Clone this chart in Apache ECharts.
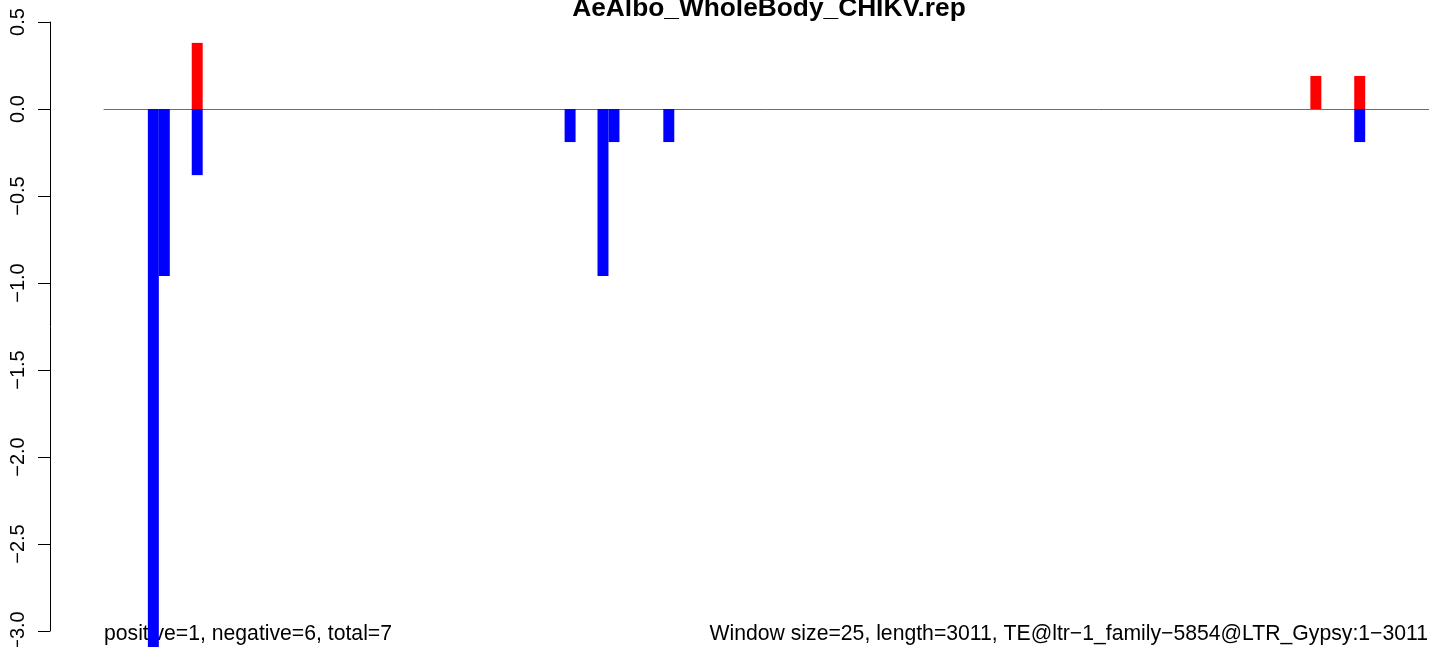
<!DOCTYPE html>
<html>
<head>
<meta charset="utf-8">
<script src="https://cdn.jsdelivr.net/npm/echarts@6/dist/echarts.min.js"></script>
<style>
  html, body { margin: 0; padding: 0; background: #fff; }
  #rep_plot { width: 1429px; height: 647px; }
</style>
</head>
<body>
<div id="rep_plot"></div>
<script>
// // DATA
const window_count = 121; // 3011 / 25 rounded up
const pos_windows = [8, 110, 114];
const pos_values = [0.38, 0.19, 0.19];
const neg_windows = [4, 5, 8, 42, 45, 46, 51, 114];
const neg_values = [-3.1, -0.96, -0.38, -0.19, -0.96, -0.19, -0.19, -0.19];
const y_ticks = [0.5, -3.0];

const title_text = "AeAlbo_WholeBody_CHIKV.rep";
const left_note = "positive=1, negative=6, total=7";
const right_note = "Window size=25, length=3011, TE@ltr\u22121_family\u22125854@LTR_Gypsy:1\u22123011";

const font = "'Liberation Sans', Arial, sans-serif";

// // HELPERS

// spreading (window, value) pairs over every window slot
function fillWindows(windows, values) {
  const out = new Array(window_count).fill('-');
  windows.forEach((w, i) => { out[w] = values[i]; });
  return out;
}

// R style tick label, real minus sign
function tickLabel(v) {
  return (v < 0 ? "\u2212" : "") + Math.abs(v).toFixed(1);
}

function repPlot() {
  const categories = Array.from({ length: window_count }, (_, i) => i + 1);

  return {
    animation: false,
    // no auto shrinking of the grid for labels (v6)
    grid: { left: 104, right: -2, top: 22, bottom: 16, outerBoundsMode: "none", containLabel: false },
    xAxis: {
      type: "category",
      data: categories,
      boundaryGap: true,
      axisLine: { onZero: true, lineStyle: { color: "#6e6e6e", width: 1 } },
      axisTick: { show: false },
      axisLabel: { show: false },
      splitLine: { show: false }
    },
    yAxis: {
      type: "value",
      min: y_ticks[1],
      max: y_ticks[0],
      interval: 0.5,
      offset: 54,
      axisLine: { show: true, lineStyle: { color: "#000", width: 1 } },
      axisTick: { show: true, length: 12, lineStyle: { color: "#000", width: 1 } },
      axisLabel: {
        rotate: 90, margin: 22, color: "#000", fontSize: 20, fontFamily: font,
        formatter: tickLabel
      },
      splitLine: { show: false }
    },
    series: [
      {
        type: "bar", name: "positive", data: fillWindows(pos_windows, pos_values),
        barWidth: "100%", barGap: "-100%", itemStyle: { color: "#ff0000" }
      },
      {
        type: "bar", name: "negative", data: fillWindows(neg_windows, neg_values),
        barWidth: "100%", barGap: "-100%", clip: false, itemStyle: { color: "#0000ff" }
      }
    ],
    graphic: {
      elements: [
        {
          type: "text", x: 769, y: 22,
          style: { text: title_text, font: "bold 26.3px " + font, fill: "#000", align: "center", verticalAlign: "bottom" }
        },
        {
          type: "text", x: 104, y: 645,
          style: { text: left_note, font: "21.2px " + font, fill: "#000", align: "left", verticalAlign: "bottom" }
        },
        {
          type: "text", x: 1428, y: 645,
          style: { text: right_note, font: "21.2px " + font, fill: "#000", align: "right", verticalAlign: "bottom" }
        }
      ]
    }
  };
}

const chart = echarts.init(document.getElementById("rep_plot"), null, { renderer: "canvas" });
chart.setOption(repPlot());
</script>
</body>
</html>
